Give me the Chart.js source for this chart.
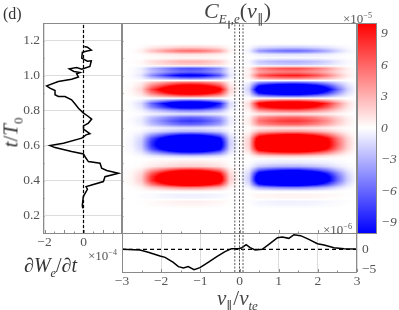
<!DOCTYPE html>
<html>
<head>
<meta charset="utf-8">
<script src="https://cdn.jsdelivr.net/npm/chart.js@4"></script>
<style>
html,body{margin:0;padding:0;background:#fff;width:399px;height:310px;overflow:hidden}
canvas{position:absolute;left:0;top:0}
.lbl{position:absolute;font-family:"Liberation Serif",serif;color:#333;white-space:nowrap;line-height:1}
.lbl i{font-style:italic}
.lbl sub,.lbl sup{line-height:0;font-size:62%}
</style>
</head>
<body>
<canvas id="heatChart" width="399" height="310"></canvas>
<canvas id="leftChart" width="399" height="310"></canvas>
<canvas id="bottomChart" width="399" height="310"></canvas>
<canvas id="barChart" width="399" height="310"></canvas>

<div class="lbl" style="left:3px;top:6px;font-size:16px">(d)</div>
<div class="lbl" style="left:204px;top:0;font-size:22px;color:#444"><i>C</i><sub style="font-size:13px"><i>E</i><sub style="font-size:8px">∥</sub>,<i>e</i></sub>(<i>v</i><sub style="font-size:13px">∥</sub>)</div>
<div class="lbl" style="left:-19px;top:122px;width:60px;text-align:center;font-size:21px;transform:rotate(-90deg)"><i>t</i>/<i>T</i><sub>0</sub></div>
<div class="lbl" style="left:24px;top:255px;font-size:20px"><i>∂W</i><sub><i>e</i></sub>/<i>∂t</i></div>
<div class="lbl" style="left:217px;top:288px;font-size:21px;color:#444"><i>v</i><sub>∥</sub>/<i>v</i><sub><i>te</i></sub></div>
<div class="lbl" style="left:88px;top:249px;font-size:13px;color:#555">×10<sup>−4</sup></div>
<div class="lbl" style="left:323px;top:223px;font-size:13px;color:#555">×10<sup>−6</sup></div>
<div class="lbl" style="left:343px;top:12px;font-size:13px;color:#555">×10<sup>−5</sup></div>

<script>
// left panel, dW/dt against t
const leftTimes=[1.166,1.162,1.145,1.138,1.132,1.099,1.082,1.084,1.052,1.036,1.046,1.038,1.023,1.017,1.010,.991,.979,.966,.941,.928,.914,.890,.880,.880,.861,.838,.813,.785,.770,.751,.728,.712,.693,.674,.667,.661,.642,.613,.600,.588,.566,.552,.527,.508,.499,.470,.457,.441,.422,.394,.371,.365,.350,.308,.260,.241];
const leftPower=[.04,.20,.40,.13,-.06,-.09,.20,.40,.33,-.09,-.35,-.73,-.49,-.18,-.35,-.26,-.61,-1.29,-1.89,-1.72,-1.46,-1.46,-1.29,-.95,-.61,-.44,-.26,0,.20,.42,.25,0,0,.25,.33,.13,-.09,-1.03,-1.72,-1.46,-.61,0,.13,.25,.85,.93,1.19,1.79,1.10,1.02,.33,.13,.20,-.01,-.06,-.04];

// bottom panel, rate against v
const bottomSpeeds=[-3,-2.54,-2.33,-2.03,-1.9,-1.69,-1.56,-1.43,-1.31,-1.16,-1.01,-.8,-.58,-.37,-.2,-.03,.06,.17,.27,.4,.58,.75,.97,1.09,1.26,1.39,1.56,1.77,1.99,2.16,2.41,2.67,2.97];
const bottomValues=[0,-.18,-.77,-1.7,-2.04,-3.3,-4.4,-4.75,-4.4,-5.17,-4.66,-3.3,-1.87,-.6,.16,.16,.41,1.18,.41,-.18,0,1.26,2.95,3.12,2.78,3.71,3.46,2.53,1.43,1.09,.41,.16,.08];

// vertical dotted lines
const markerSpeeds=[-.12,0,.09];

// tick values
const timeTicks=[.2,.4,.6,.8,1,1.2];
const speedTicks=[-3,-2,-1,0,1,2,3];
const powerTicks=[-2,0];
const rateTicks=[-5,0];
const barTicks=[-9,-6,-3,0,3,6,9];

// heat values, x10^-5, clipped at +-10 by the colour scale
const heatSpeeds=[-3,-2.75,-2.5,-2.25,-2,-1.75,-1.5,-1.25,-1,-.75,-.5,-.25,0,.25,.5,.75,1,1.25,1.5,1.75,2,2.25,2.5,2.75,3];
const heatTimes=[1.18,1.16,1.14,1.12,1.1,1.08,1.06,1.04,1.02,1,.98,.96,.94,.92,.9,.88,.86,.84,.82,.8,.78,.76,.74,.72,.7,.68,.66,.64,.62,.6,.58,.56,.54,.52,.5,.48,.46,.44,.42,.4,.38,.36,.34,.32,.3,.28,.26,.24];
const heatValues=[
[0,0,0,0,0,0,0,0,0,0,0,0,0,0,0,0,0,0,0,0,0,0,0,0,0],
[0,0,.2,.8,1.2,1.6,1.9,2,1.9,1.6,1.2,.2,0,-.2,-1.4,-1.7,-1.9,-2,-2,-1.8,-1.5,-1.1,-.6,-.2,0],
[0,.1,.6,2.4,3.6,4.8,5.7,6,5.7,4.8,3.6,.6,0,-.6,-4.2,-5.1,-5.7,-6,-6,-5.4,-4.5,-3.3,-1.8,-.6,0],
[0,0,.1,.4,.6,.8,1,1,1,.8,.6,.1,0,-.1,-.7,-.9,-1,-1,-1,-.9,-.8,-.6,-.3,-.1,0],
[0,0,0,.1,.1,.2,.2,.2,.2,.2,.1,0,0,0,-.1,-.2,-.2,-.2,-.2,-.2,-.2,-.1,-.1,0,0],
[0,.1,.3,1.2,1.8,2.4,2.9,3,2.9,2.4,1.8,.3,0,-.3,-2.1,-2.6,-2.9,-3,-3,-2.7,-2.3,-1.7,-.9,-.3,0],
[0,0,.2,.8,1.2,1.6,1.9,2,1.9,1.6,1.2,.2,0,-.2,-1.4,-1.7,-1.9,-2,-2,-1.8,-1.5,-1.1,-.6,-.2,0],
[0,-.1,-.7,-2.8,-4.2,-5.6,-6.7,-7,-6.7,-5.6,-4.2,-.7,0,.7,4.9,6,6.7,7,7,6.3,5.3,3.9,2.1,.7,0],
[0,-.1,-.6,-2.4,-3.6,-4.8,-5.7,-6,-5.7,-4.8,-3.6,-.6,0,.5,3.5,4.3,4.8,5,5,4.5,3.8,2.8,1.5,.5,0],
[0,-.2,-1.1,-4.4,-6.6,-8.8,-10.5,-11,-10.5,-8.8,-6.6,-1.1,0,.9,6.3,7.7,8.6,9,9,8.1,6.8,5,2.7,.9,0],
[0,-.1,-.4,-1.6,-2.4,-3.2,-3.8,-4,-3.8,-3.2,-2.4,-.4,0,.4,2.8,3.4,3.8,4,4,3.6,3,2.2,1.2,.4,0],
[0,.1,.6,2.4,3.6,4.8,5.7,6,5.7,4.8,3.6,.6,0,-.6,-4.2,-5.1,-5.7,-6,-6,-5.4,-4.5,-3.3,-1.8,-.6,0],
[0,.2,1.2,4.8,7.2,9.6,11.4,12,11.4,9.6,7.2,1.2,0,-1.4,-9.8,-11.9,-13.3,-14,-14,-12.6,-10.5,-7.7,-4.2,-1.4,0],
[0,.4,1.8,7.2,10.8,14.4,17.1,18,17.1,14.4,10.8,1.8,0,-2,-14,-17,-19,-20,-20,-18,-15,-11,-6,-2,0],
[0,.3,1.3,5.2,7.8,10.4,12.4,13,12.4,10.4,7.8,1.3,0,-1.4,-9.8,-11.9,-13.3,-14,-14,-12.6,-10.5,-7.7,-4.2,-1.4,0],
[0,.1,.5,2,3,4,4.8,5,4.8,4,3,.5,0,-.5,-3.5,-4.3,-4.8,-5,-5,-4.5,-3.8,-2.8,-1.5,-.5,0],
[0,-.1,-.5,-2,-3,-4,-4.8,-5,-4.8,-4,-3,-.5,0,.5,3.5,4.3,4.8,5,5,4.5,3.8,2.8,1.5,.5,0],
[0,-.3,-1.5,-6,-9,-12,-14.3,-15,-14.3,-12,-9,-1.5,0,1.5,10.5,12.8,14.3,15,15,13.5,11.3,8.3,4.5,1.5,0],
[0,-.2,-1.2,-4.8,-7.2,-9.6,-11.4,-12,-11.4,-9.6,-7.2,-1.2,0,1.2,8.4,10.2,11.4,12,12,10.8,9,6.6,3.6,1.2,0],
[0,-.1,-.5,-2,-3,-4,-4.8,-5,-4.8,-4,-3,-.5,0,.6,4.2,5.1,5.7,6,6,5.4,4.5,3.3,1.8,.6,0],
[0,0,-.1,-.4,-.6,-.8,-1,-1,-1,-.8,-.6,-.1,0,.1,.7,.9,1,1,1,.9,.8,.6,.3,.1,0],
[0,-.1,-.6,-2.4,-3.6,-4.8,-5.7,-6,-5.7,-4.8,-3.6,-.6,0,.6,4.2,5.1,5.7,6,6,5.4,4.5,3.3,1.8,.6,0],
[0,-.2,-.8,-3.2,-4.8,-6.4,-7.6,-8,-7.6,-6.4,-4.8,-.8,0,.8,5.6,6.8,7.6,8,8,7.2,6,4.4,2.4,.8,0],
[0,-.1,-.6,-2.4,-3.6,-4.8,-5.7,-6,-5.7,-4.8,-3.6,-.6,0,.6,4.2,5.1,5.7,6,6,5.4,4.5,3.3,1.8,.6,0],
[0,0,-.1,-.4,-.6,-.8,-1,-1,-1,-.8,-.6,-.1,0,.1,.7,.9,1,1,1,.9,.8,.6,.3,.1,0],
[0,-.1,-.3,-1.2,-1.8,-2.4,-2.9,-3,-2.9,-2.4,-1.8,-.3,0,.4,2.8,3.4,3.8,4,4,3.6,3,2.2,1.2,.4,0],
[0,-.2,-1,-4,-6,-8,-9.5,-10,-9.5,-8,-6,-1,0,1.1,7.7,9.4,10.5,11,11,9.9,8.3,6.1,3.3,1.1,0],
[0,-.3,-1.7,-6.8,-10.2,-13.6,-16.2,-17,-16.2,-13.6,-10.2,-1.7,0,1.8,12.6,15.3,17.1,18,18,16.2,13.5,9.9,5.4,1.8,0],
[0,-.4,-2,-8,-12,-16,-19,-20,-19,-16,-12,-2,0,2,14,17,19,20,20,18,15,11,6,2,0],
[0,-.4,-2,-8,-12,-16,-19,-20,-19,-16,-12,-2,0,2,14,17,19,20,20,18,15,11,6,2,0],
[0,-.3,-1.7,-6.8,-10.2,-13.6,-16.2,-17,-16.2,-13.6,-10.2,-1.7,0,1.7,11.9,14.5,16.2,17,17,15.3,12.8,9.4,5.1,1.7,0],
[0,-.2,-.9,-3.6,-5.4,-7.2,-8.6,-9,-8.6,-7.2,-5.4,-.9,0,.9,6.3,7.7,8.6,9,9,8.1,6.8,5,2.7,.9,0],
[0,0,-.2,-.8,-1.2,-1.6,-1.9,-2,-1.9,-1.6,-1.2,-.2,0,.2,1.4,1.7,1.9,2,2,1.8,1.5,1.1,.6,.2,0],
[0,0,0,.1,.2,.2,.3,.3,.3,.2,.2,0,0,0,-.2,-.3,-.3,-.3,-.3,-.3,-.2,-.2,-.1,0,0],
[0,0,.1,.4,.6,.8,1,1,1,.8,.6,.1,0,-.1,-.7,-.9,-1,-1,-1,-.9,-.8,-.6,-.3,-.1,0],
[0,0,.2,.8,1.2,1.6,1.9,2,1.9,1.6,1.2,.2,0,-.3,-2.1,-2.6,-2.9,-3,-3,-2.7,-2.3,-1.7,-.9,-.3,0],
[0,.2,.9,3.6,5.4,7.2,8.6,9,8.6,7.2,5.4,.9,0,-.9,-6.3,-7.7,-8.6,-9,-9,-8.1,-6.8,-5,-2.7,-.9,0],
[0,.3,1.6,6.4,9.6,12.8,15.2,16,15.2,12.8,9.6,1.6,0,-1.6,-11.2,-13.6,-15.2,-16,-16,-14.4,-12,-8.8,-4.8,-1.6,0],
[0,.4,2,8,12,16,19,20,19,16,12,2,0,-2,-14,-17,-19,-20,-20,-18,-15,-11,-6,-2,0],
[0,.4,2,8,12,16,19,20,19,16,12,2,0,-2,-14,-17,-19,-20,-20,-18,-15,-11,-6,-2,0],
[0,.3,1.4,5.6,8.4,11.2,13.3,14,13.3,11.2,8.4,1.4,0,-1.4,-9.8,-11.9,-13.3,-14,-14,-12.6,-10.5,-7.7,-4.2,-1.4,0],
[0,.1,.5,2,3,4,4.8,5,4.8,4,3,.5,0,-.5,-3.5,-4.3,-4.8,-5,-5,-4.5,-3.8,-2.8,-1.5,-.5,0],
[0,0,.1,.2,.3,.4,.5,.5,.5,.4,.3,0,0,0,-.3,-.3,-.4,-.4,-.4,-.4,-.3,-.2,-.1,0,0],
[0,0,-.1,-.2,-.4,-.5,-.6,-.6,-.6,-.5,-.4,-.1,0,.1,.4,.4,.5,.5,.5,.5,.4,.3,.2,.1,0],
[0,0,-.1,-.2,-.3,-.4,-.5,-.5,-.5,-.4,-.3,0,0,0,.3,.3,.4,.4,.4,.4,.3,.2,.1,0,0],
[0,0,.1,.2,.4,.5,.6,.6,.6,.5,.4,.1,0,-.1,-.4,-.5,-.6,-.6,-.6,-.5,-.5,-.3,-.2,-.1,0],
[0,0,0,.2,.2,.3,.4,.4,.4,.3,.2,0,0,0,-.3,-.3,-.4,-.4,-.4,-.4,-.3,-.2,-.1,0,0],
[0,0,0,0,0,0,0,0,0,0,0,0,0,0,0,0,0,0,0,0,0,0,0,0,0]
];

// Panel layout in page pixels
const leftArea={left:43,right:122,top:23,bottom:233};
const heatArea={left:122,right:357,top:23,bottom:233};
const bottomArea={left:122,right:357,top:233,bottom:272};
const barArea={left:357,right:377,top:23,bottom:233};

const frameColor="#8a8a8a",gridColor="#dcdcdc",tickText="#555";
const serif="'Liberation Serif', serif";

function padFor(a,xH,yW,yRight){
  return {left:a.left-(yRight?0:yW),right:399-a.right-(yRight?yW:0),top:a.top,bottom:310-a.bottom-xH};
}
function bwr(v){
  const f=Math.min(1,Math.abs(v)/10);
  const c=Math.round(255*(1-f));
  return v>=0?[255,c,c]:[c,c,255];
}
function fmt(dec){
  return v=>(v<0?"−":"")+Math.abs(v).toFixed(dec);
}
function useTicks(list){
  return s=>{s.ticks=list.map(v=>({value:v}));};
}

// Heat image, sampled through the scales
const heatPlugin={
  id:"heat",
  beforeDatasetsDraw(chart){
    const a=chart.chartArea,xs=chart.scales.x,ys=chart.scales.y;
    const w=Math.round(a.right-a.left),h=Math.round(a.bottom-a.top);
    const img=chart.ctx.createImageData(w,h);
    const dv=heatSpeeds[1]-heatSpeeds[0],dt=heatTimes[0]-heatTimes[1];
    for(let j=0;j<h;j++){
      const t=ys.getValueForPixel(a.top+j+.5);
      const r=(heatTimes[0]-t)/dt;
      for(let i=0;i<w;i++){
        const v=xs.getValueForPixel(a.left+i+.5);
        const c=(v-heatSpeeds[0])/dv;
        let val=0;
        if(r>=0&&r<heatTimes.length-1&&c>=0&&c<heatSpeeds.length-1){
          const r0=Math.floor(r),c0=Math.floor(c),fr=r-r0,fc=c-c0;
          val=(heatValues[r0][c0]*(1-fc)+heatValues[r0][c0+1]*fc)*(1-fr)
             +(heatValues[r0+1][c0]*(1-fc)+heatValues[r0+1][c0+1]*fc)*fr;
        }
        const col=bwr(val),k=(j*w+i)*4;
        img.data[k]=col[0];img.data[k+1]=col[1];img.data[k+2]=col[2];img.data[k+3]=255;
      }
    }
    chart.ctx.putImageData(img,a.left,a.top);
  }
};

// Frame and small inward ticks
function framePlugin(xMinor,yMinor){
  return {
    id:"frame",
    afterDraw(chart){
      const a=chart.chartArea,ctx=chart.ctx,xs=chart.scales.x,ys=chart.scales.y;
      ctx.save();
      ctx.strokeStyle=frameColor;
      ctx.lineWidth=1;
      ctx.beginPath();
      if(xMinor) for(let v=Math.ceil(xs.min/xMinor)*xMinor;v<=xs.max;v+=xMinor){
        const p=Math.round(xs.getPixelForValue(v))+.5;
        const major=Math.abs(v-Math.round(v))<1e-6;
        ctx.moveTo(p,a.bottom);ctx.lineTo(p,a.bottom-(major?3:1.5));
      }
      if(yMinor) for(let v=Math.ceil(ys.min/yMinor)*yMinor;v<=ys.max;v+=yMinor){
        const p=Math.round(ys.getPixelForValue(v))+.5;
        ctx.moveTo(a.left,p);ctx.lineTo(a.left+1.5,p);
      }
      ctx.stroke();
      ctx.strokeRect(a.left+.5,a.top+.5,a.right-a.left-1,a.bottom-a.top);
      ctx.restore();
    }
  };
}

function markerLines(lo,hi){
  return markerSpeeds.map(v=>({
    data:[{x:v,y:lo},{x:v,y:hi}],showLine:true,pointRadius:0,
    borderColor:"#555",borderWidth:1,borderDash:[2,1.5]
  }));
}

const base={responsive:false,animation:false,events:[],plugins:{legend:{display:false},tooltip:{enabled:false}}};
const tickFont={family:serif,size:13.5};

// Main heat panel
new Chart(document.getElementById("heatChart"),{
  type:"scatter",
  data:{datasets:markerLines(.1,1.3)},
  options:{...base,layout:{padding:padFor(heatArea,0,0,false)},
    scales:{
      x:{display:false,min:-3,max:3},
      y:{display:false,min:.1,max:1.3}
    }},
  plugins:[heatPlugin,framePlugin(.5,.1)]
});

// Left panel
new Chart(document.getElementById("leftChart"),{
  type:"scatter",
  data:{datasets:[
    {data:leftPower.map((p,i)=>({x:p,y:leftTimes[i]})),showLine:true,pointRadius:0,borderColor:"#000",borderWidth:1.5,tension:0},
    {data:[{x:0,y:.1},{x:0,y:1.3}],showLine:true,pointRadius:0,borderColor:"#000",borderWidth:1.2,borderDash:[3,2]}
  ]},
  options:{...base,layout:{padding:padFor(leftArea,20,30,false)},
    scales:{
      x:{type:"linear",min:-2.077,max:1.974,
        afterBuildTicks:useTicks(powerTicks),
        afterFit(s){s.height=20;},
        grid:{color:gridColor,drawTicks:false},border:{display:false},
        ticks:{padding:1,maxRotation:0,autoSkip:false,color:tickText,font:tickFont,callback:fmt(0)}},
      y:{type:"linear",min:.1,max:1.3,
        afterBuildTicks:useTicks(timeTicks),
        afterFit(s){s.width=30;},
        grid:{color:gridColor,drawTicks:false},border:{display:false},
        ticks:{padding:3,autoSkip:false,color:tickText,font:tickFont,callback:fmt(1)}}
    }},
  plugins:[framePlugin(.5,.1)]
});

// Bottom panel
new Chart(document.getElementById("bottomChart"),{
  type:"scatter",
  data:{datasets:[
    ...markerLines(-5.76,4.14),
    {data:bottomSpeeds.map((v,i)=>({x:v,y:bottomValues[i]})),showLine:true,pointRadius:0,borderColor:"#000",borderWidth:1.5,tension:0},
    {data:[{x:-3,y:0},{x:3,y:0}],showLine:true,pointRadius:0,borderColor:"#000",borderWidth:1.2,borderDash:[4,3]}
  ]},
  options:{...base,layout:{padding:padFor(bottomArea,20,26,true)},
    scales:{
      x:{type:"linear",min:-3,max:3,
        afterBuildTicks:useTicks(speedTicks),
        afterFit(s){s.height=20;},
        grid:{color:gridColor,drawTicks:false},border:{display:false},
        ticks:{padding:1,maxRotation:0,autoSkip:false,color:tickText,font:tickFont,callback:fmt(0)}},
      y:{type:"linear",position:"right",min:-5.76,max:4.14,
        afterBuildTicks:useTicks(rateTicks),
        afterFit(s){s.width=26;},
        grid:{display:false,drawTicks:false},border:{display:false},
        ticks:{padding:5,autoSkip:false,color:tickText,font:tickFont,callback:fmt(0)}}
    }},
  plugins:[framePlugin(.5,0)]
});

// Colour bar
new Chart(document.getElementById("barChart"),{
  type:"bar",
  data:{labels:["c"],datasets:[{
    data:[[-10,10]],barPercentage:1,categoryPercentage:1,
    backgroundColor(ctx){
      const a=ctx.chart.chartArea;
      if(!a) return "#fff";
      const g=ctx.chart.ctx.createLinearGradient(0,a.bottom,0,a.top);
      g.addColorStop(0,"rgb(0,0,255)");
      g.addColorStop(.5,"rgb(255,255,255)");
      g.addColorStop(1,"rgb(255,0,0)");
      return g;
    }
  }]},
  options:{...base,layout:{padding:padFor(barArea,0,22,true)},
    scales:{
      x:{display:false},
      y:{position:"right",min:-10,max:10,
        afterBuildTicks:useTicks(barTicks),
        afterFit(s){s.width=22;},
        grid:{display:false,drawTicks:false},border:{display:false},
        ticks:{padding:4,autoSkip:false,color:tickText,
          font:{family:serif,size:13.5,style:"italic"},callback:fmt(0)}}
    }},
  plugins:[framePlugin(0,0)]
});
</script>
</body>
</html>
